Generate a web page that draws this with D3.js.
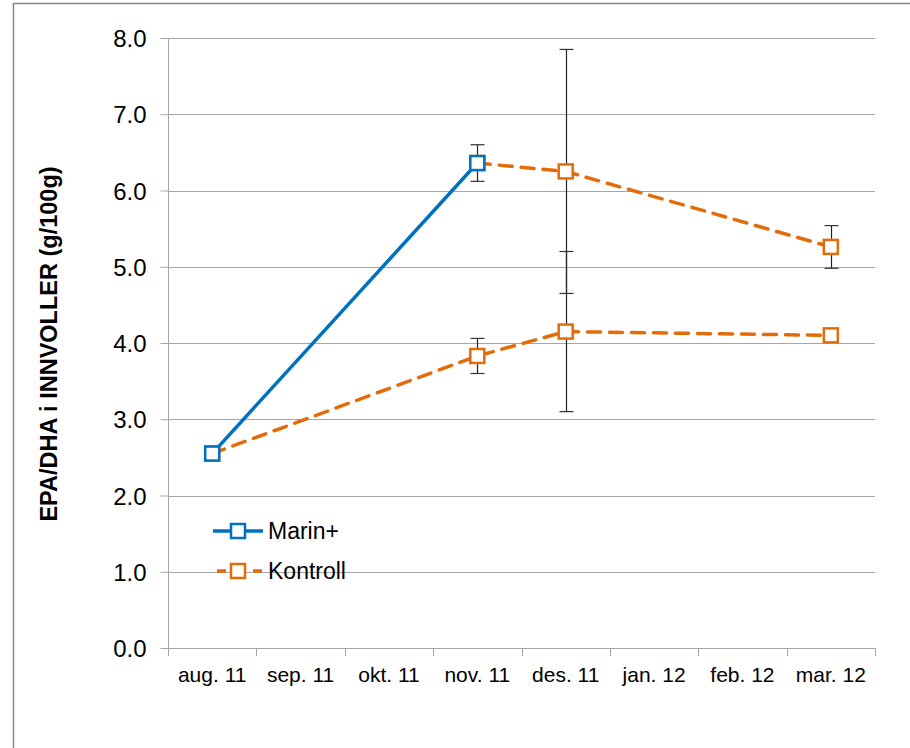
<!DOCTYPE html>
<html><head><meta charset="utf-8">
<script src="https://cdn.jsdelivr.net/npm/d3@7"></script>
<style>body{margin:0;background:#fff}svg{display:block}</style>
</head><body>
<script>
const categories = ["aug. 11","sep. 11","okt. 11","nov. 11","des. 11","jan. 12","feb. 12","mar. 12"];
const yTicks = [0,1,2,3,4,5,6,7,8];
// Marin+ series
const marinCats = ["aug. 11","nov. 11"];
const marinVals = [2.55, 6.36];
const marinErr  = [0, 0.24];
// Kontroll series (lower)
const kontrollCats = ["aug. 11","nov. 11","des. 11","mar. 12"];
const kontrollVals = [2.55, 3.83, 4.15, 4.10];
const kontrollErr  = [0, 0.23, 1.05, 0];
// Continuation from Marin+ (dashed, orange)
const contCats = ["nov. 11","des. 11","mar. 12"];
const contVals = [6.36, 6.25, 5.26];
const contErr  = [0, 1.6, 0.28];

const W=910,H=748;
const FONT="Liberation Sans, Arial, sans-serif";
const svg=d3.select("body").append("svg").attr("width",W).attr("height",H);
svg.append("rect").attr("x",13.5).attr("y",3.5).attr("width",W).attr("height",H).attr("fill","none").attr("stroke","#888").attr("stroke-width",1.5);

const L=168,R=875,T=38,B=648;
const x=d3.scaleBand().domain(categories).range([L,R]).padding(0);
const cx=c=>x(c)+x.bandwidth()/2;
const y=d3.scaleLinear().domain([0,8]).range([B,T]);

// gridlines
svg.append("g").selectAll("line").data(yTicks.filter(d=>d>0)).join("line")
 .attr("x1",L).attr("x2",R).attr("y1",d=>Math.round(y(d))+0.5).attr("y2",d=>Math.round(y(d))+0.5)
 .attr("stroke","#a6a6a6").attr("stroke-width",1);

// y axis
const ya=svg.append("g").attr("transform",`translate(${L+0.5},0)`)
 .call(d3.axisLeft(y).tickValues(yTicks).tickFormat(d3.format(".1f")).tickSize(8).tickPadding(14));
ya.select(".domain").attr("stroke","#a6a6a6").attr("d",`M-0,${B}V${T}`);
ya.selectAll(".tick line").attr("stroke","#a6a6a6");
ya.selectAll("text").style("font-family",FONT).style("font-size","24px").attr("fill","#000").attr("dy","0.36em");

// x axis
const xa=svg.append("g").attr("transform",`translate(0,${B+0.5})`)
 .call(d3.axisBottom(x).tickSize(0).tickPadding(19));
xa.select(".domain").attr("stroke","#a6a6a6").attr("d",`M${L},0H${R}`);
xa.selectAll("text").style("font-family",FONT).style("font-size","21px").attr("fill","#000");
svg.append("g").selectAll("line").data(d3.range(categories.length+1)).join("line")
 .attr("x1",i=>Math.round(L+i*x.bandwidth())+0.5).attr("x2",i=>Math.round(L+i*x.bandwidth())+0.5)
 .attr("y1",B).attr("y2",B+8).attr("stroke","#a6a6a6");

// y title
svg.append("text").attr("transform",`translate(57,${(T+B)/2+1}) rotate(-90)`).attr("text-anchor","middle")
 .style("font-family",FONT).style("font-weight","bold").style("font-size","23.5px").text("EPA/DHA i INNVOLLER (g/100g)");

const blue="#0070c0", orange="#e36c09";
const line=d3.line().x(d=>cx(d.c)).y(d=>y(d.v));
const mk=(cats,vals,errs)=>cats.map((c,i)=>({c,v:vals[i],e:errs[i]}));
const marin=mk(marinCats,marinVals,marinErr), kontroll=mk(kontrollCats,kontrollVals,kontrollErr), cont=mk(contCats,contVals,contErr);

// error bars
function errBars(data){
 const g=svg.append("g");
 data.filter(d=>d.e>0).forEach(d=>{
  const X=Math.round(cx(d.c))+0.5;
  g.append("line").attr("x1",X).attr("x2",X).attr("y1",y(d.v+d.e)).attr("y2",y(d.v-d.e)).attr("stroke","#222").attr("stroke-width",1.2);
  [d.v+d.e,d.v-d.e].forEach(v=>g.append("line").attr("x1",X-7).attr("x2",X+7).attr("y1",y(v)).attr("y2",y(v)).attr("stroke","#333").attr("stroke-width",1.2));
 });
}
errBars(cont); errBars(kontroll); errBars(marin);

svg.append("path").datum(cont).attr("d",line).attr("fill","none").attr("stroke",orange).attr("stroke-width",3.5).attr("stroke-dasharray","13,9").attr("stroke-linecap","round");
svg.append("path").datum(kontroll).attr("d",line).attr("fill","none").attr("stroke",orange).attr("stroke-width",3.5).attr("stroke-dasharray","13,9").attr("stroke-linecap","round");
svg.append("path").datum(marin).attr("d",line).attr("fill","none").attr("stroke",blue).attr("stroke-width",3.5);

function markers(data,col){
 svg.append("g").selectAll("rect").data(data).join("rect")
  .attr("x",d=>cx(d.c)-7).attr("y",d=>y(d.v)-7).attr("width",14).attr("height",14)
  .attr("fill","#fff").attr("stroke",col).attr("stroke-width",2.5);
}
markers(cont,orange); markers(kontroll,orange); markers(marin,blue);

// legend
const leg=[{n:"Marin+",c:blue,dash:null,y:531},{n:"Kontroll",c:orange,dash:"13,9",y:571}];
leg.forEach(l=>{
 const g=svg.append("g");
 g.append("line").attr("x1",213).attr("x2",263).attr("y1",l.y).attr("y2",l.y).attr("stroke",l.c).attr("stroke-width",3.5).attr("stroke-dasharray",l.dash?"9,9":null).attr("stroke-dashoffset",l.dash?-4:0);
 g.append("rect").attr("x",231).attr("y",l.y-7).attr("width",14).attr("height",14).attr("fill","#fff").attr("stroke",l.c).attr("stroke-width",2.5);
 g.append("text").attr("x",268).attr("y",l.y+8).style("font-family",FONT).style("font-size","23px").text(l.n);
});
</script>
</body></html>
